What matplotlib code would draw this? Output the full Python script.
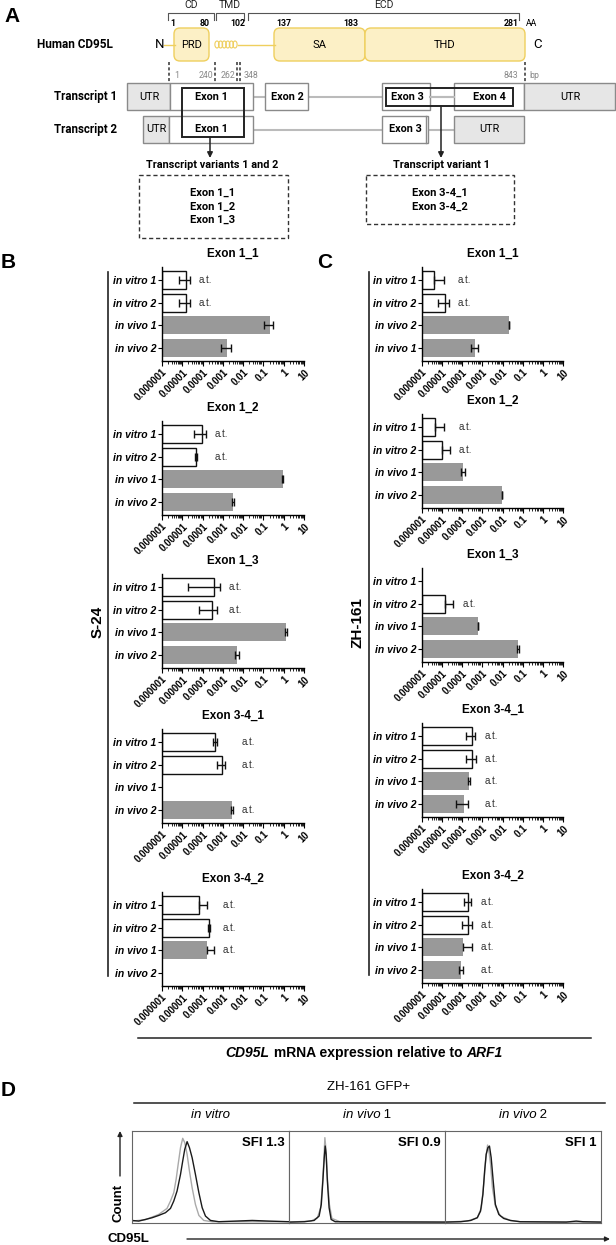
import numpy as np
import matplotlib
matplotlib.use('Agg')
import matplotlib.pyplot as plt
from matplotlib.patches import Rectangle, FancyBboxPatch, Ellipse
from matplotlib.ticker import LogLocator, FixedLocator, FixedFormatter, NullFormatter

plt.rcParams['font.family'] = ['Liberation Sans', 'DejaVu Sans']

W, H, DPI = 616, 1245, 100
nan = np.nan

# ---------------- data ----------------
exon_titles = ['Exon 1_1', 'Exon 1_2', 'Exon 1_3', 'Exon 3-4_1', 'Exon 3-4_2']
samples_std = ['in vitro 1', 'in vitro 2', 'in vivo 1', 'in vivo 2']
samples_alt = ['in vitro 1', 'in vitro 2', 'in vivo 2', 'in vivo 1']

s24_labels = [samples_std, samples_std, samples_std, samples_std, samples_std]
s24_values = [
    [1.5e-5, 1.5e-5, 0.21, 1.6e-3],
    [9.3e-5, 4.7e-5, 0.91, 3.2e-3],
    [3.6e-4, 2.9e-4, 1.29, 5.0e-3],
    [4.1e-4, 9.1e-4, nan, 2.8e-3],
    [6.6e-5, 2.1e-4, 1.66e-4, nan],
]
s24_sd = [
    [8e-6, 8e-6, 0.10, 8e-4],
    [5.5e-5, 5e-6, 0.05, 3e-4],
    [3.4e-4, 2.2e-4, 0.15, 1e-3],
    [1e-4, 4e-4, nan, 2e-4],
    [1e-4, 2e-5, 1.9e-4, nan],
]
s24_at = [[1, 1, 0, 0], [1, 1, 0, 0], [1, 1, 0, 0], [1, 1, 0, 1], [1, 1, 1, 0]]

zh_labels = [samples_alt, samples_std, samples_std, samples_std, samples_std]
zh_values = [
    [4e-6, 1.4e-5, 0.021, 4.3e-4],
    [4.4e-6, 9.8e-6, 1.1e-4, 9.4e-3],
    [nan, 1.4e-5, 6e-4, 0.059],
    [3e-4, 3.2e-4, 2.15e-4, 1.2e-4],
    [1.9e-4, 2e-4, 1.1e-4, 8.7e-5],
]
zh_sd = [
    [8e-6, 7.5e-6, 1e-3, 1.5e-4],
    [8e-6, 1.5e-5, 2.5e-5, 3e-4],
    [nan, 2.1e-5, 0.0, 5e-3],
    [1.4e-4, 1.6e-4, 2.5e-5, 7e-5],
    [7e-5, 1e-4, 1.9e-4, 2e-5],
]
zh_at = [[1, 1, 0, 0], [1, 1, 0, 0], [0, 1, 0, 0], [1, 1, 1, 1], [1, 1, 1, 1]]

xtick_vals = [1e-6, 1e-5, 1e-4, 1e-3, 1e-2, 1e-1, 1, 10]
xtick_labels = ['0.000001', '0.00001', '0.0001', '0.001', '0.01', '0.1', '1', '10']

# flow cytometry histograms (x: % of axis width, y: % of max height)
hist_titles = [('in vitro', ''), ('in vivo', ' 1'), ('in vivo', ' 2')]
hist_sfi = ['SFI 1.3', 'SFI 0.9', 'SFI 1']
hv_black_x = [0, 4.3, 8.5, 12.8, 17.0, 21.3, 24.5, 26.6, 28.7, 30.9, 32.3, 33.6, 35.1, 36.6, 38.3, 40.4, 42.6, 44.7, 46.8, 50.0, 55.3, 66.0, 76.6, 87.2, 100]
hv_black_y = [1.8, 1.1, 2.9, 4.8, 7.3, 10.3, 15.0, 23.1, 34.1, 52.4, 67.0, 79.9, 88.3, 81.7, 70.7, 52.4, 32.2, 15.8, 6.6, 1.8, 0.4, 1.1, 1.8, 1.1, 0.4]
hv_gray_x = [0, 8.5, 17.0, 22.3, 24.5, 26.6, 28.1, 29.4, 30.9, 32.3, 33.6, 35.1, 36.6, 38.3, 40.4, 42.6, 45.7, 51.1, 100]
hv_gray_y = [1.1, 2.6, 8.4, 15.0, 23.1, 32.2, 46.9, 63.4, 81.7, 92.0, 87.2, 74.4, 56.0, 37.7, 19.4, 7.3, 1.8, 0.4, 0.4]
h1_black_x = [0, 9.9, 16.1, 19.3, 20.7, 21.7, 22.6, 23.2, 23.8, 24.6, 25.7, 27.0, 29.6, 100]
h1_black_y = [0, 0.4, 1.8, 6.6, 19.4, 45.1, 70.7, 83.5, 74.4, 45.1, 15.8, 2.9, 0.4, 0]
h1_gray_x = [0, 14.1, 18.2, 20.3, 21.3, 22.2, 23.0, 23.8, 24.6, 25.9, 27.5, 32.7, 100]
h1_gray_y = [0, 1.1, 4.8, 15.8, 37.7, 63.4, 92.7, 78.0, 48.4, 19.4, 4.0, 0.4, 0]
h2_black_x = [0, 10.1, 16.5, 20.7, 22.8, 24.3, 25.4, 26.4, 27.5, 28.5, 29.6, 30.9, 32.3, 34.5, 37.6, 41.9, 48.2, 77.8, 84.1, 88.4, 100]
h2_black_y = [0, 0.4, 1.8, 4.8, 12.1, 30.4, 56.0, 74.4, 81.7, 83.5, 70.7, 45.1, 19.4, 8.4, 4.0, 1.8, 0.4, 0, 1.1, 0.4, 0]
h2_gray_x = [0, 14.4, 20.7, 23.3, 25.0, 26.2, 27.3, 28.3, 29.2, 30.4, 32.3, 35.5, 41.9, 48.2, 100]
h2_gray_y = [0, 1.1, 4.8, 15.8, 45.1, 70.7, 84.6, 76.2, 63.4, 37.7, 17.6, 6.6, 1.8, 0.4, 0]
hist_black = [(hv_black_x, hv_black_y), (h1_black_x, h1_black_y), (h2_black_x, h2_black_y)]
hist_gray = [(hv_gray_x, hv_gray_y), (h1_gray_x, h1_gray_y), (h2_gray_x, h2_gray_y)]

# ---------------- figure ----------------
fig = plt.figure(figsize=(W / DPI, H / DPI), dpi=DPI)
fig.patch.set_facecolor('white')
ov = fig.add_axes([0, 0, 1, 1])
ov.set_xlim(0, W)
ov.set_ylim(H, 0)
ov.axis('off')
ov.patch.set_alpha(0)


def pax(x0, y0, x1, y1):
    return fig.add_axes([x0 / W, 1 - y1 / H, (x1 - x0) / W, (y1 - y0) / H])


RB = ['Roboto', 'DejaVu Sans']
K = '#222222'

# ---------------- panel A ----------------
ov.text(4, 16, 'A', fontsize=15, fontweight='bold', va='center', ha='left')
# brackets
for x0, x1, lab in [(168, 214, 'CD'), (216, 244, 'TMD'), (248, 519, 'ECD')]:
    ov.plot([x0, x0, x1, x1], [20, 13, 13, 20], color='#555', lw=0.8)
    ov.text((x0 + x1) / 2, 5, lab, ha='center', va='center', fontsize=7.5, family=RB, color='#222')
for x, lab in [(173, '1'), (205, '80'), (238, '102'), (284, '137'), (351, '183'), (511, '281')]:
    ov.text(x, 23.5, lab, ha='center', va='center', fontsize=6.3, fontweight='bold', family=RB)
ov.text(532, 23.5, 'AA', ha='center', va='center', fontsize=6.3, family=RB)
ov.text(37, 45, 'Human CD95L', ha='left', va='center', fontsize=8.5, fontweight='bold', family=RB)
ov.text(160, 45, 'N', ha='center', va='center', fontsize=9.5, family=RB)
ov.text(537, 45, 'C', ha='center', va='center', fontsize=9.5, family=RB)
YF, YE = '#fcf0c6', '#efcf5e'
ov.plot([164, 175], [44.5, 44.5], color=YE, lw=1)
ov.plot([238, 275], [44.5, 44.5], color=YE, lw=1)
for x0, x1, lab in [(174, 209, 'PRD'), (274, 365, 'SA'), (365, 525, 'THD')]:
    ov.add_patch(FancyBboxPatch((x0, 28), x1 - x0, 33, boxstyle='round,pad=0,rounding_size=6',
                                facecolor=YF, edgecolor=YE, lw=1))
    ov.text((x0 + x1) / 2, 44.5, lab, ha='center', va='center', fontsize=8, family=RB)
for cx in np.arange(217, 238, 3.6):
    ov.add_patch(Ellipse((cx, 44.5), 4.2, 7, facecolor='none', edgecolor=YE, lw=0.8))
for x in [169, 215, 237, 240, 525]:
    ov.plot([x, x], [62, 82], color='#333', lw=1.1, ls=(0, (2, 1.5)))
ov.text(174, 76, '1', ha='left', va='center', fontsize=6.3, color='#888', family=RB)
for x, lab in [(206, '240'), (228, '262'), (251, '348'), (511, '843'), (534, 'bp')]:
    ov.text(x, 76, lab, ha='center', va='center', fontsize=6.3, color='#888', family=RB)

# transcripts
ov.text(86, 96.5, 'Transcript 1', ha='center', va='center', fontsize=8.3, fontweight='bold', family=RB)
ov.text(86, 129.5, 'Transcript 2', ha='center', va='center', fontsize=8.3, fontweight='bold', family=RB)
GE = '#8a8a8a'
for (x0, x1), (y0, y1) in [((253, 265), (96.5, 96.5)), ((308, 382), (96.5, 96.5)),
                           ((430, 454), (96.5, 96.5)), ((253, 382), (129.5, 129.5)),
                           ((428, 454), (129.5, 129.5))]:
    ov.plot([x0, x1], [y0, y1], color='#bbbbbb', lw=1.5, zorder=1)
boxes = [  # x0, x1, y0, y1, fill, label, labelx
    (127, 170, 83, 110, '#e6e6e6', 'UTR', 149, False),
    (170, 253, 83, 110, 'white', '', 0, False),
    (265, 308, 83, 110, 'white', 'Exon 2', 287, True),
    (382, 430, 83, 110, 'white', '', 0, True),
    (454, 524, 83, 110, 'white', '', 0, True),
    (524, 615, 83, 110, '#e6e6e6', 'UTR', 570, False),
    (143, 169, 116, 143, '#e6e6e6', 'UTR', 156, False),
    (169, 253, 116, 143, 'white', '', 0, False),
    (382, 428, 116, 143, 'white', 'Exon 3', 405, True),
    (454, 524, 116, 143, '#e6e6e6', 'UTR', 489, False),
]
for x0, x1, y0, y1, fc, lab, lx, bold in boxes:
    ov.add_patch(Rectangle((x0, y0), x1 - x0, y1 - y0, facecolor=fc, edgecolor=GE, lw=1, zorder=2))
    if lab:
        ov.text(lx, (y0 + y1) / 2, lab, ha='center', va='center', fontsize=7.8,
                fontweight='bold' if bold else 'normal', family=RB, zorder=5)
ov.plot([425.5, 425.5], [116, 143], color=GE, lw=1, zorder=3)
ov.plot([430, 454], [96.5, 96.5], color='#bbbbbb', lw=1.5, zorder=3)
ov.text(407, 96.5, 'Exon 3', ha='center', va='center', fontsize=7.8, fontweight='bold', family=RB, zorder=5)
ov.text(489, 96.5, 'Exon 4', ha='center', va='center', fontsize=7.8, fontweight='bold', family=RB, zorder=5)
ov.text(211, 96.5, 'Exon 1', ha='center', va='center', fontsize=7.8, fontweight='bold', family=RB, zorder=5)
ov.text(211, 129.5, 'Exon 1', ha='center', va='center', fontsize=7.8, fontweight='bold', family=RB, zorder=5)
ov.add_patch(Rectangle((182, 88), 62, 49, facecolor='none', edgecolor=K, lw=1.4, zorder=4))
ov.add_patch(Rectangle((386, 88), 127, 18, facecolor='none', edgecolor=K, lw=1.4, zorder=4))
for x, y0 in [(210, 137), (441, 106)]:
    ov.annotate('', xy=(x, 158), xytext=(x, y0),
                arrowprops=dict(arrowstyle='-|>', color=K, lw=1.1, mutation_scale=8, shrinkA=0, shrinkB=0))
ov.text(212, 165, 'Transcript variants 1 and 2', ha='center', va='center', fontsize=7.8, fontweight='bold', family=RB)
ov.text(441, 165, 'Transcript variant 1', ha='center', va='center', fontsize=7.8, fontweight='bold', family=RB)
ov.add_patch(Rectangle((139, 175), 149, 63, facecolor='none', edgecolor='#333', lw=1, ls=(0, (3, 2))))
ov.add_patch(Rectangle((366, 175), 148, 49, facecolor='none', edgecolor='#333', lw=1, ls=(0, (3, 2))))
for i, lab in enumerate(['Exon 1_1', 'Exon 1_2', 'Exon 1_3']):
    ov.text(213, 193 + 13.5 * i, lab, ha='center', va='center', fontsize=8, fontweight='bold', family=RB)
for i, lab in enumerate(['Exon 3-4_1', 'Exon 3-4_2']):
    ov.text(440, 193 + 13.5 * i, lab, ha='center', va='center', fontsize=8, fontweight='bold', family=RB)

# ---------------- panels B / C ----------------
ov.text(8, 262, 'B', fontsize=15, fontweight='bold', va='center', ha='center')
ov.text(325, 262, 'C', fontsize=15, fontweight='bold', va='center', ha='center')

B_X = (162, 304)
C_X = (422, 563)
B_TOPS = [267, 421, 574, 729, 892]
C_TOPS = [267, 414, 568, 723, 889]
AX_H = 94
XMIN, XMAX = 1e-6, 10


def bar_chart(x0x1, top, title, labels, vals, sds, ats):
    ax = pax(x0x1[0], top, x0x1[1], top + AX_H)
    ax.set_xscale('log')
    ax.set_xlim(XMIN, XMAX)
    ax.set_ylim(3.6, -0.6)
    for sp in ['top', 'right']:
        ax.spines[sp].set_visible(False)
    for sp in ['left', 'bottom']:
        ax.spines[sp].set_linewidth(1.0)
    at_x = []
    for i, (lab, v, s, a) in enumerate(zip(labels, vals, sds, ats)):
        if np.isnan(v):
            continue
        invivo = 'vivo' in lab
        ax.barh(i, v - XMIN, left=XMIN, height=0.8,
                color='#999999' if invivo else 'white',
                edgecolor='none' if invivo else '#111111', lw=1.0, zorder=2)
        lo = s if v - s > 0 else 0.0
        ax.errorbar([v], [i], xerr=[[lo], [s]], fmt='none', ecolor='#111111',
                    elinewidth=1.0, capsize=3, capthick=1.0, zorder=3)
        if a:
            at_x.append(v + s)
    if at_x:
        xa = max(at_x)
        for i, a in enumerate(ats):
            if a:
                ax.annotate('a.t.', xy=(xa, i), xycoords='data', xytext=(6.5, 0),
                            textcoords='offset points', ha='left', va='center',
                            fontsize=7, color='#333333', annotation_clip=False)
    ax.set_yticks(range(4))
    ax.set_yticklabels(labels, fontsize=7.5, fontweight='bold', fontstyle='italic')
    ax.tick_params(axis='y', length=3, width=0.8, pad=1)
    ax.xaxis.set_major_locator(FixedLocator(xtick_vals))
    ax.xaxis.set_major_formatter(FixedFormatter(xtick_labels))
    ax.xaxis.set_minor_locator(LogLocator(base=10, subs=np.arange(2, 10), numticks=20))
    ax.xaxis.set_minor_formatter(NullFormatter())
    ax.tick_params(axis='x', which='major', length=3.5, width=0.8, pad=1)
    ax.tick_params(axis='x', which='minor', length=2, width=0.6)
    for t in ax.get_xticklabels():
        t.set_rotation(45)
        t.set_ha('right')
        t.set_va('top')
        t.set_rotation_mode('anchor')
        t.set_fontsize(7)
        t.set_fontweight('bold')
    ax.annotate(title, xy=(0.5, 1), xycoords='axes fraction', xytext=(0, 9.5),
                textcoords='offset points', ha='center', va='center', fontsize=8.5, fontweight='bold')
    ax.patch.set_alpha(0)
    return ax


for k in range(5):
    bar_chart(B_X, B_TOPS[k], exon_titles[k], s24_labels[k], s24_values[k], s24_sd[k], s24_at[k])
    bar_chart(C_X, C_TOPS[k], exon_titles[k], zh_labels[k], zh_values[k], zh_sd[k], zh_at[k])

ov.plot([108, 108], [272, 976], color=K, lw=1.2)
ov.plot([369, 369], [272, 975], color=K, lw=1.2)
ov.text(98, 622, 'S-24', rotation=90, ha='center', va='center', fontsize=11, fontweight='bold')
ov.text(357, 623, 'ZH-161', rotation=90, ha='center', va='center', fontsize=11, fontweight='bold')
ov.plot([138, 591], [1038, 1038], color=K, lw=1.1)

renderer = fig.canvas.get_renderer()


def rich(xc, y, parts, size):
    ts, ws = [], []
    for s, st in parts:
        t = ov.text(0, y, s, fontsize=size, ha='left', va='center', **st)
        ts.append(t)
        ws.append(t.get_window_extent(renderer).width)
    x = xc - sum(ws) / 2
    for t, w in zip(ts, ws):
        t.set_x(x)
        x += w


BI = dict(fontweight='bold', fontstyle='italic')
BN = dict(fontweight='bold')
rich(364, 1053, [('CD95L', BI), ('\u00a0mRNA expression relative to\u00a0', BN), ('ARF1', BI)], 10)

# ---------------- panel D ----------------
ov.text(8, 1090, 'D', fontsize=15, fontweight='bold', va='center', ha='center')
ov.text(369, 1087, 'ZH-161 GFP+', ha='center', va='center', fontsize=9.5)
ov.plot([134, 605], [1103, 1103], color=K, lw=1.1)
HX = [132, 289, 445, 601]
for j in range(3):
    ax = pax(HX[j], 1131, HX[j + 1], 1223)
    ax.plot(*hist_gray[j], color='#aaaaaa', lw=1.0)
    ax.plot(*hist_black[j], color='#1a1a1a', lw=1.0)
    ax.set_xlim(0, 100)
    ax.set_ylim(-1, 100)
    ax.set_xticks([])
    ax.set_yticks([])
    for sp in ax.spines.values():
        sp.set_color('#666666')
        sp.set_linewidth(0.8)
    ax.text(0.97, 0.87, hist_sfi[j], transform=ax.transAxes, ha='right', va='center',
            fontsize=9.5, fontweight='bold')
    it, num = hist_titles[j]
    rich((HX[j] + HX[j + 1]) / 2, 1115, [(it, dict(fontstyle='italic')), (num.replace(' ', '\u00a0'), {})], 9.5)

ov.annotate('', xy=(120, 1131), xytext=(120, 1176),
            arrowprops=dict(arrowstyle='-|>', color=K, lw=1, mutation_scale=7, shrinkA=0, shrinkB=0))
ov.text(118, 1203, 'Count', rotation=90, ha='center', va='center', fontsize=9.5, fontweight='bold')
ov.text(108, 1239, 'CD95L', ha='left', va='center', fontsize=9.5, fontweight='bold')
ov.annotate('', xy=(610, 1239), xytext=(187, 1239),
            arrowprops=dict(arrowstyle='-|>', color=K, lw=1, mutation_scale=7, shrinkA=0, shrinkB=0))

fig.savefig('out.png', dpi=DPI, facecolor='white')
